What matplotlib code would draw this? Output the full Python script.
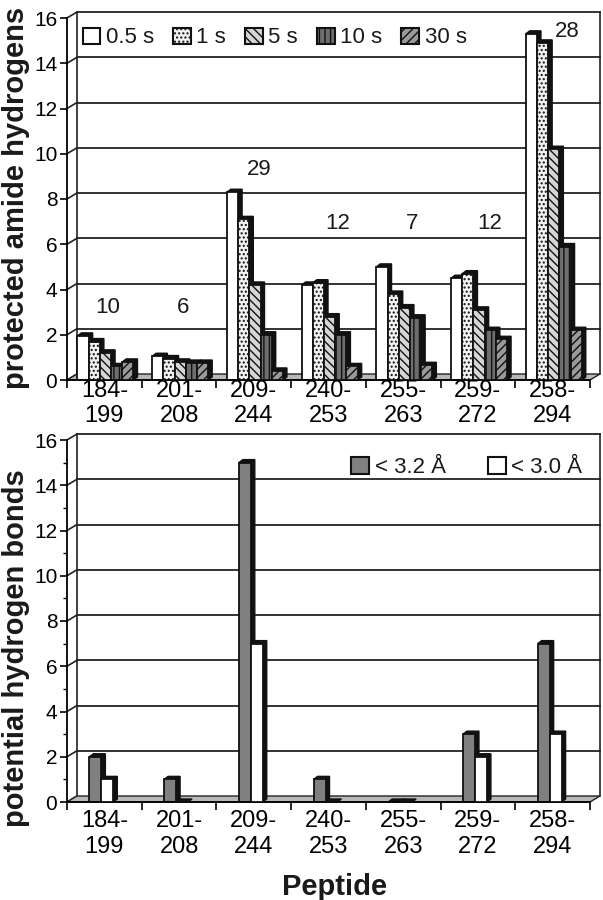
import matplotlib.pyplot as plt
import numpy as np
from matplotlib.patches import Polygon, Patch

plt.rcParams['font.family'] = ['Liberation Sans', 'DejaVu Sans']
plt.rcParams['hatch.linewidth'] = 1.0
plt.rcParams['text.color'] = '#1a1a1a'

# data
peptides = ["184-\n199", "201-\n208", "209-\n244", "240-\n253", "255-\n263", "259-\n272", "258-\n294"]
times = ["0.5 s", "1 s", "5 s", "10 s", "30 s"]
t05 = [1.95, 1.05, 8.3, 4.2, 5.0, 4.5, 15.3]
t1 = [1.7, 0.95, 7.1, 4.3, 3.8, 4.7, 14.9]
t5 = [1.2, 0.8, 4.2, 2.8, 3.2, 3.1, 10.2]
t10 = [0.6, 0.75, 2.0, 2.0, 2.75, 2.2, 5.9]
t30 = [0.8, 0.75, 0.4, 0.6, 0.65, 1.8, 2.2]
counts = [10, 6, 29, 12, 7, 12, 28]
count_y = [3.2, 3.2, 9.3, 6.9, 6.9, 6.9, 15.4]
count_dx = [0.04, 0.05, 0.07, 0.12, 0.12, 0.16, 0.2]
hb_labels = ["< 3.2 Å", "< 3.0 Å"]
hb32 = [2, 1, 15, 1, 0, 3, 7]
hb30 = [1, 0, 7, 0, 0, 2, 3]

W, H = 603, 900
fig = plt.figure(figsize=(W / 100, H / 100), dpi=100)
ax1 = fig.add_axes([67 / W, 1 - 380 / H, 523 / W, 362 / H])
ax2 = fig.add_axes([67 / W, 1 - 802 / H, 523 / W, 362 / H])

ux = 7 / 523   # data units per pixel
uy = 16 / 362
wx, wy = 10 * ux, 6 * uy   # wall depth
bx, by = 4 * ux, 3 * uy    # bar depth


def frame(ax, minor):
    ax.set_xlim(-0.5, 6.5)
    ax.set_ylim(0, 16)
    for s in ['top', 'right']:
        ax.spines[s].set_visible(False)
    for s in ['left', 'bottom']:
        ax.spines[s].set_linewidth(1.3)
    for y in range(2, 17, 2):
        ax.plot([-0.5 + wx, 6.5 + wx], [y + wy, y + wy], color='#222', lw=1.3,
                zorder=0.5, clip_on=False)
    for y in range(0, 17, 2):
        ax.plot([-0.5, -0.5 + wx], [y, y + wy], color='#222', lw=1.2, zorder=0.5, clip_on=False)
    ax.plot([-0.5 + wx] * 2, [wy, 16 + wy], color='#222', lw=1.2, zorder=0.5, clip_on=False)
    ax.plot([6.5 + wx] * 2, [wy, 16 + wy], color='#222', lw=1.2, zorder=0.5, clip_on=False)
    ax.add_patch(Polygon([(-0.5, 0), (6.5, 0), (6.5 + wx, wy), (-0.5 + wx, wy)],
                         closed=True, fc='#b8b8b8', ec='#222', lw=1, zorder=1, clip_on=False))
    ax.set_yticks(range(0, 17, 2))
    if minor:
        ax.set_yticks(range(0, 17), minor=True)
    ax.tick_params(axis='y', which='major', direction='out', length=5, width=1.2,
                   labelsize=15, pad=2)
    ax.tick_params(axis='y', which='minor', direction='out', length=3, width=1.0)
    ax.set_xticks(np.arange(len(peptides)))
    ax.set_xticklabels(peptides)
    ax.set_xticks(np.arange(-0.5, 7, 1), minor=True)
    ax.tick_params(axis='x', which='major', length=0, labelsize=17)
    ax.tick_params(axis='x', which='minor', direction='out', length=6, width=1.2)


def bars3d(ax, xs, vals, w, face, hatch, z):
    for x, v in zip(xs, vals):
        ax.add_patch(Polygon([(x, v), (x + bx, v + by), (x + w + bx, v + by),
                              (x + w + bx, by), (x + w, 0), (x + w, v)],
                             closed=True, fc='#111', ec='#111', lw=1, zorder=z))
    ax.bar(xs, vals, w, align='edge', color=face, hatch=hatch, edgecolor='#111',
           linewidth=1.3, zorder=z + 0.1)


frame(ax1, False)
frame(ax2, True)
ax1.tick_params(axis='x', which='major', pad=0)
ax2.tick_params(axis='x', which='major', pad=6)

x = np.arange(len(peptides))
top_series = [t05, t1, t5, t10, t30]
top_face = ['white', '#f2f2f2', '#d6d6d6', '#6e6e6e', '#9a9a9a']
top_hatch = [None, '....', '\\\\\\\\', '|||', '////']
w1 = 0.15
for i, vals in enumerate(top_series):
    bars3d(ax1, x - 0.36 + i * w1, vals, w1, top_face[i], top_hatch[i], 2 + i)

for i, c in enumerate(counts):
    ax1.text(x[i] + count_dx[i], count_y[i], str(c), ha='center', va='center', fontsize=16)

handles = [Patch(facecolor=top_face[i], hatch=top_hatch[i], edgecolor='#111', linewidth=1.5)
           for i in range(len(times))]
ax1.legend(handles, times, loc='center left', bbox_to_anchor=(0.03, 0.945), ncol=5,
           frameon=False, fontsize=16, handlelength=0.8, handleheight=0.75,
           handletextpad=0.25, columnspacing=0.85, borderaxespad=0, borderpad=0)

w2 = 0.16
bars3d(ax2, x - 0.2, hb32, w2, '#808080', None, 2)
bars3d(ax2, x - 0.2 + w2, hb30, w2, 'white', None, 3)
handles2 = [Patch(facecolor='#808080', edgecolor='#111', linewidth=1.5),
            Patch(facecolor='white', edgecolor='#111', linewidth=1.5)]
ax2.legend(handles2, hb_labels, loc='center right', bbox_to_anchor=(0.985, 0.923), ncol=2,
           frameon=False, fontsize=16, handlelength=0.8, handleheight=0.8,
           handletextpad=0.25, columnspacing=1.9, borderaxespad=0, borderpad=0)

fig.text(16 / W, 1 - 198 / H, "protected amide hydrogens", rotation=90, ha='center',
         va='center', fontsize=21, fontweight='bold')
fig.text(16 / W, 1 - 648 / H, "potential hydrogen bonds", rotation=90, ha='center',
         va='center', fontsize=21, fontweight='bold')
fig.text(335 / W, 1 - 887 / H, "Peptide", ha='center', va='center', fontsize=21,
         fontweight='bold')

fig.savefig("out.png", dpi=100)
